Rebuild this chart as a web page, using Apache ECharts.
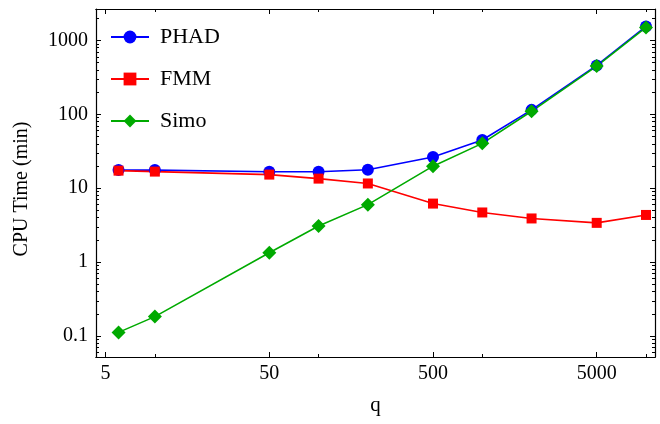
<!DOCTYPE html>
<html>
<head>
<meta charset="utf-8">
<script src="https://cdn.jsdelivr.net/npm/echarts@6/dist/echarts.min.js"></script>
<style>
  html, body { margin: 0; padding: 0; background: #fff; }
  #chart { width: 660px; height: 424px; }
</style>
</head>
<body>
<div id="chart"></div>
<script>
const qValues = [6, 10, 50, 100, 200, 500, 1000, 2000, 5000, 10000];
const phadTime = [17.6, 17.6, 16.7, 16.7, 17.8, 26.5, 45, 115, 460, 1550];
const fmmTime = [17.3, 16.8, 15.3, 13.5, 11.6, 6.2, 4.7, 3.9, 3.4, 4.35];
const simoTime = [0.112, 0.183, 1.34, 3.08, 6.0, 19.9, 40.5, 110, 450, 1500];

const xMin = 4.37, xMax = 11350;
const yMin = 0.052, yMax = 2666;
const labelShift = 5; // labelled x ticks sit at 5, 50, 500, 5000

const font = '"Liberation Serif", "DejaVu Serif", serif';
const black = '#000';

function pairs(ys) {
    return qValues.map((q, i) => [q, ys[i]]);
}

const chart = echarts.init(document.getElementById('chart'), null, { renderer: 'canvas' });

function xAxisDef(pos, scale, labelled, tickLen) {
    return {
        type: 'log',
        logBase: 10,
        position: pos,
        min: xMin / scale,
        max: xMax / scale,
        axisLine: { show: true, onZero: false, lineStyle: { color: black, width: 1.2 } },
        axisTick: { show: true, inside: true, length: tickLen, lineStyle: { color: black, width: 1 } },
        minorTick: { show: false },
        splitLine: { show: false },
        axisLabel: {
            show: labelled,
            showMinLabel: false,
            showMaxLabel: false,
            margin: 7,
            fontFamily: font,
            fontSize: 20,
            color: black,
            formatter: v => String(Math.round(v * scale))
        }
    };
}

function yAxisDef(pos, labelled) {
    return {
        type: 'log',
        logBase: 10,
        position: pos,
        min: yMin,
        max: yMax,
        name: labelled ? 'CPU Time (min)' : '',
        nameLocation: 'middle',
        nameGap: 64,
        nameTextStyle: { fontFamily: font, fontSize: 20, color: black, padding: [0, 12, 0, 0] },
        axisLine: { show: true, onZero: false, lineStyle: { color: black, width: 1.2 } },
        axisTick: { show: true, inside: true, length: 5, lineStyle: { color: black, width: 1 } },
        minorTick: { show: true, splitNumber: 9, length: 3, lineStyle: { color: black, width: 1 } },
        splitLine: { show: false },
        axisLabel: {
            show: labelled,
            showMinLabel: false,
            showMaxLabel: false,
            margin: 8,
            fontFamily: font,
            fontSize: 20,
            color: black,
            formatter: v => String(v)
        }
    };
}

const xAxes = [
    xAxisDef('bottom', 1, false, 3),
    Object.assign(xAxisDef('bottom', labelShift, true, 5), {
        name: 'q',
        nameLocation: 'middle',
        nameGap: 38,
        nameTextStyle: { fontFamily: font, fontSize: 21, color: black }
    }),
    xAxisDef('top', 1, false, 3),
    xAxisDef('top', labelShift, false, 5)
];

const option = {
    animation: false,
    backgroundColor: '#fff',
    grid: { left: 96, right: 5, top: 9, bottom: 67, containLabel: false },
    legend: {
        orient: 'vertical',
        left: 110,
        top: 26,
        padding: 0,
        itemWidth: 38,
        itemHeight: 16,
        itemGap: 20,
        textStyle: { fontFamily: font, fontSize: 22, color: black, lineHeight: 22, padding: [0, 0, 0, 6] },
        data: ['PHAD', 'FMM', 'Simo']
    },
    xAxis: xAxes,
    yAxis: [yAxisDef('left', true), yAxisDef('right', false)],
    series: [
        {
            name: 'PHAD', type: 'line', xAxisIndex: 0, yAxisIndex: 0,
            data: pairs(phadTime),
            symbol: 'circle', symbolSize: 12,
            itemStyle: { color: '#0000ff' },
            lineStyle: { color: '#0000ff', width: 1.6 }
        },
        {
            name: 'FMM', type: 'line', xAxisIndex: 0, yAxisIndex: 0,
            data: pairs(fmmTime),
            symbol: 'rect', symbolSize: 10,
            itemStyle: { color: '#ff0000' },
            lineStyle: { color: '#ff0000', width: 1.6 }
        },
        {
            name: 'Simo', type: 'line', xAxisIndex: 0, yAxisIndex: 0,
            data: pairs(simoTime),
            symbol: 'diamond', symbolSize: 14,
            itemStyle: { color: '#00aa00' },
            lineStyle: { color: '#00aa00', width: 1.6 }
        }
    ]
};

chart.setOption(option);
</script>
</body>
</html>
